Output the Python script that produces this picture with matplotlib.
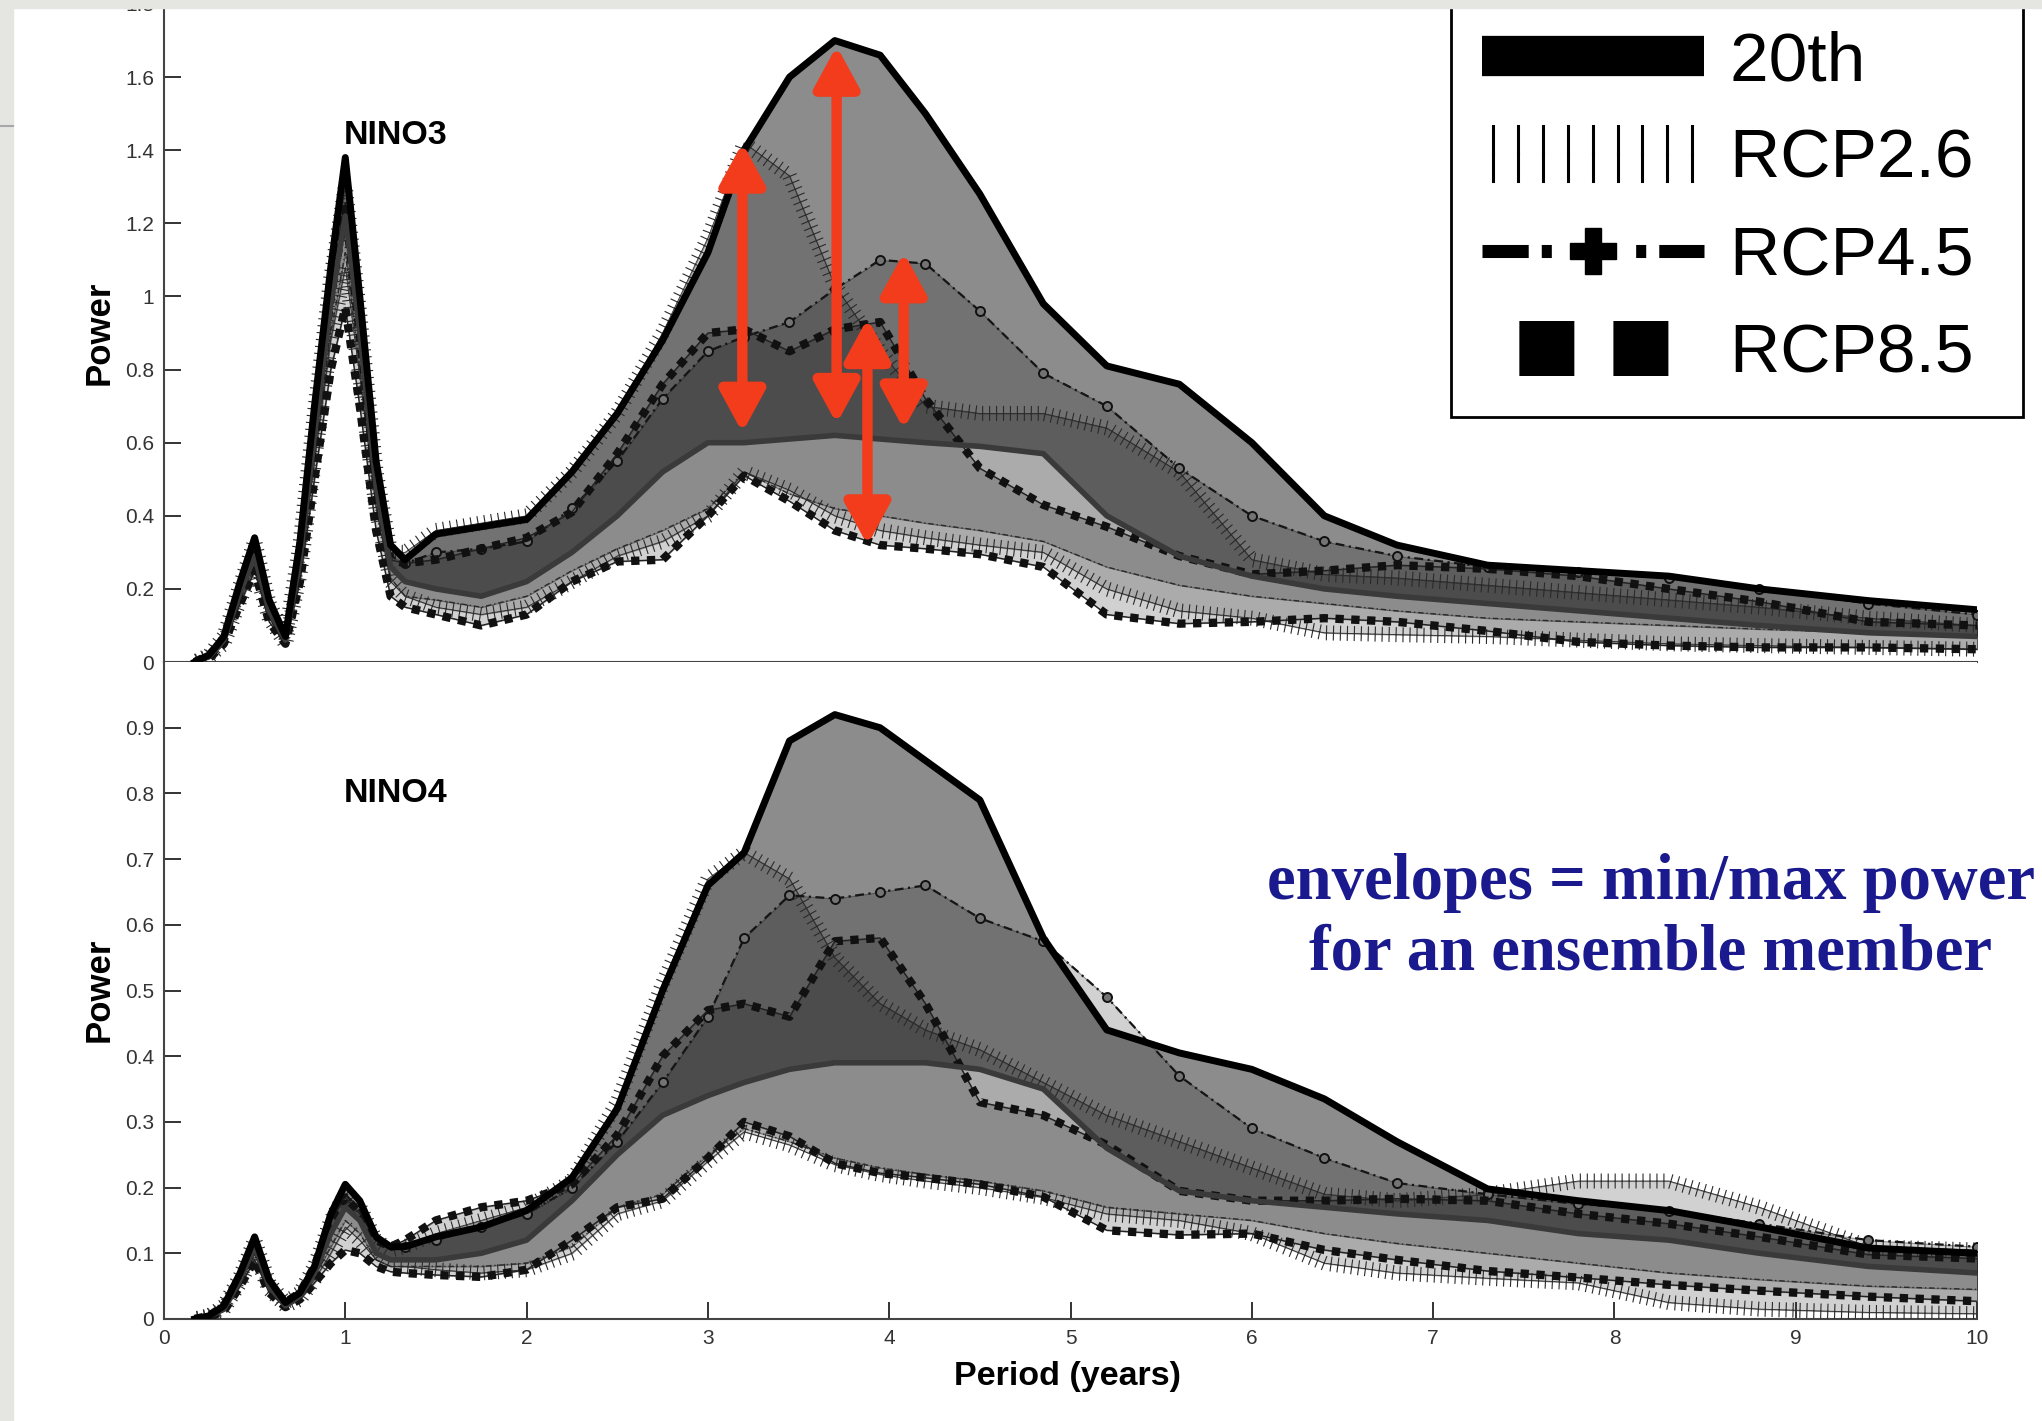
import matplotlib
matplotlib.use('Agg')
import matplotlib.pyplot as plt
from matplotlib import font_manager
from matplotlib import patheffects as pe
from matplotlib.lines import Line2D
from matplotlib.patches import Rectangle


def pick_font(*names):
    for name in names:
        try:
            font_manager.findfont(font_manager.FontProperties(family=name), fallback_to_default=False)
            return name
        except ValueError:
            continue
    return 'DejaVu Sans'


NARROW = pick_font('Liberation Sans Narrow', 'Liberation Sans')
SANS = pick_font('Liberation Sans', 'DejaVu Sans')
SERIF = pick_font('Liberation Serif', 'DejaVu Serif')
plt.rcParams['font.family'] = [SANS, 'DejaVu Sans']

# period grid (years), shared by every curve
period = [0.17, 0.25, 0.33, 0.42, 0.5, 0.58, 0.67, 0.75, 0.83, 0.92, 1.0, 1.08, 1.17, 1.25,
          1.33, 1.5, 1.75, 2.0, 2.25, 2.5, 2.75, 3.0, 3.2, 3.45, 3.7, 3.95, 4.2, 4.5, 4.85,
          5.2, 5.6, 6.0, 6.4, 6.8, 7.3, 7.8, 8.3, 8.8, 9.4, 10.0]

scenarios = ['20th', 'RCP2.6', 'RCP4.5', 'RCP8.5']

# NINO3 envelopes (min / max power over ensemble members)
n3_20th_max = [0.0, 0.02, 0.07, 0.22, 0.34, 0.17, 0.07, 0.33, 0.70, 1.08, 1.38, 1.00, 0.55, 0.32,
               0.28, 0.35, 0.37, 0.39, 0.52, 0.68, 0.88, 1.12, 1.40, 1.60, 1.70, 1.66, 1.50, 1.28, 0.98,
               0.81, 0.76, 0.60, 0.40, 0.32, 0.265, 0.25, 0.235, 0.20, 0.168, 0.143]
n3_20th_min = [0.0, 0.015, 0.06, 0.19, 0.29, 0.14, 0.06, 0.28, 0.62, 0.98, 1.22, 0.90, 0.48, 0.26,
               0.22, 0.20, 0.18, 0.22, 0.30, 0.40, 0.52, 0.60, 0.60, 0.61, 0.62, 0.61, 0.60, 0.59, 0.57,
               0.40, 0.29, 0.235, 0.20, 0.18, 0.16, 0.14, 0.12, 0.10, 0.08, 0.07]
n3_26_max = [0.0, 0.02, 0.07, 0.21, 0.33, 0.16, 0.07, 0.32, 0.68, 1.05, 1.30, 0.95, 0.52, 0.30,
             0.30, 0.36, 0.38, 0.40, 0.52, 0.68, 0.90, 1.16, 1.42, 1.33, 1.03, 0.85, 0.70, 0.68, 0.68,
             0.64, 0.52, 0.28, 0.24, 0.23, 0.21, 0.19, 0.17, 0.15, 0.12, 0.10]
n3_26_min = [0.0, 0.015, 0.05, 0.17, 0.26, 0.12, 0.05, 0.24, 0.55, 0.88, 1.08, 0.78, 0.42, 0.22,
             0.18, 0.15, 0.13, 0.15, 0.22, 0.29, 0.33, 0.40, 0.52, 0.47, 0.40, 0.36, 0.34, 0.32, 0.30,
             0.20, 0.14, 0.12, 0.08, 0.075, 0.07, 0.06, 0.05, 0.045, 0.04, 0.035]
n3_45_max = [0.0, 0.02, 0.07, 0.21, 0.32, 0.16, 0.07, 0.31, 0.66, 1.02, 1.26, 0.92, 0.50, 0.29,
             0.27, 0.30, 0.31, 0.33, 0.42, 0.55, 0.72, 0.85, 0.89, 0.93, 1.02, 1.10, 1.09, 0.96, 0.79,
             0.70, 0.53, 0.40, 0.33, 0.29, 0.26, 0.245, 0.23, 0.20, 0.16, 0.13]
n3_45_min = [0.0, 0.015, 0.05, 0.18, 0.27, 0.13, 0.05, 0.25, 0.57, 0.90, 1.12, 0.80, 0.44, 0.23,
             0.18, 0.17, 0.15, 0.18, 0.25, 0.31, 0.36, 0.42, 0.52, 0.46, 0.42, 0.40, 0.38, 0.36, 0.33,
             0.26, 0.21, 0.18, 0.16, 0.14, 0.12, 0.11, 0.10, 0.09, 0.08, 0.07]
n3_85_max = [0.0, 0.02, 0.06, 0.20, 0.31, 0.15, 0.06, 0.30, 0.64, 1.00, 1.24, 0.90, 0.49, 0.28,
             0.27, 0.28, 0.31, 0.34, 0.41, 0.57, 0.76, 0.90, 0.91, 0.85, 0.91, 0.93, 0.72, 0.53, 0.43,
             0.37, 0.29, 0.24, 0.25, 0.265, 0.255, 0.235, 0.20, 0.165, 0.11, 0.10]
n3_85_min = [0.0, 0.01, 0.05, 0.16, 0.25, 0.11, 0.05, 0.22, 0.50, 0.80, 0.97, 0.70, 0.36, 0.18,
             0.15, 0.13, 0.10, 0.13, 0.22, 0.275, 0.28, 0.40, 0.51, 0.44, 0.36, 0.32, 0.31, 0.295, 0.26,
             0.13, 0.105, 0.11, 0.12, 0.11, 0.085, 0.055, 0.045, 0.04, 0.04, 0.035]

# NINO4 envelopes
n4_20th_max = [0.0, 0.005, 0.02, 0.07, 0.125, 0.06, 0.025, 0.04, 0.08, 0.16, 0.205, 0.18, 0.125, 0.11,
               0.11, 0.125, 0.14, 0.165, 0.215, 0.32, 0.50, 0.66, 0.71, 0.88, 0.92, 0.90, 0.85, 0.79, 0.58,
               0.44, 0.405, 0.38, 0.335, 0.27, 0.198, 0.18, 0.165, 0.14, 0.108, 0.10]
n4_20th_min = [0.0, 0.004, 0.015, 0.06, 0.11, 0.05, 0.02, 0.035, 0.07, 0.13, 0.17, 0.15, 0.10, 0.09,
               0.09, 0.09, 0.10, 0.12, 0.18, 0.25, 0.31, 0.34, 0.36, 0.38, 0.39, 0.39, 0.39, 0.38, 0.35,
               0.26, 0.195, 0.18, 0.17, 0.16, 0.15, 0.13, 0.12, 0.10, 0.08, 0.07]
n4_26_max = [0.0, 0.005, 0.02, 0.065, 0.12, 0.055, 0.025, 0.04, 0.08, 0.15, 0.19, 0.17, 0.12, 0.105,
             0.11, 0.13, 0.15, 0.17, 0.21, 0.33, 0.51, 0.67, 0.71, 0.67, 0.55, 0.48, 0.44, 0.41, 0.36,
             0.31, 0.27, 0.23, 0.19, 0.18, 0.19, 0.21, 0.21, 0.17, 0.11, 0.105]
n4_26_min = [0.0, 0.004, 0.015, 0.055, 0.10, 0.045, 0.02, 0.03, 0.06, 0.10, 0.14, 0.12, 0.09, 0.08,
             0.08, 0.075, 0.07, 0.075, 0.10, 0.16, 0.18, 0.24, 0.285, 0.265, 0.235, 0.22, 0.21, 0.20, 0.185,
             0.16, 0.15, 0.13, 0.085, 0.07, 0.062, 0.055, 0.025, 0.015, 0.01, 0.008]
n4_45_max = [0.0, 0.005, 0.02, 0.065, 0.118, 0.055, 0.025, 0.04, 0.08, 0.15, 0.19, 0.165, 0.12, 0.105,
             0.11, 0.12, 0.14, 0.16, 0.20, 0.27, 0.36, 0.46, 0.58, 0.645, 0.64, 0.65, 0.66, 0.61, 0.575,
             0.49, 0.37, 0.29, 0.245, 0.207, 0.19, 0.175, 0.165, 0.145, 0.12, 0.11]
n4_45_min = [0.0, 0.004, 0.015, 0.055, 0.10, 0.045, 0.02, 0.032, 0.065, 0.11, 0.15, 0.13, 0.09, 0.08,
             0.08, 0.08, 0.08, 0.085, 0.11, 0.17, 0.19, 0.25, 0.29, 0.27, 0.245, 0.23, 0.22, 0.21, 0.195,
             0.17, 0.16, 0.15, 0.13, 0.115, 0.10, 0.085, 0.07, 0.06, 0.05, 0.045]
n4_85_max = [0.0, 0.005, 0.02, 0.065, 0.115, 0.055, 0.025, 0.04, 0.08, 0.15, 0.185, 0.16, 0.12, 0.11,
             0.12, 0.15, 0.17, 0.18, 0.205, 0.28, 0.40, 0.47, 0.48, 0.46, 0.575, 0.58, 0.48, 0.33, 0.31,
             0.265, 0.195, 0.18, 0.18, 0.183, 0.18, 0.16, 0.145, 0.125, 0.098, 0.092]
n4_85_min = [0.0, 0.003, 0.012, 0.05, 0.09, 0.04, 0.018, 0.03, 0.055, 0.085, 0.105, 0.10, 0.08, 0.072,
             0.07, 0.067, 0.064, 0.075, 0.12, 0.17, 0.183, 0.245, 0.30, 0.278, 0.237, 0.222, 0.215, 0.205,
             0.186, 0.135, 0.128, 0.13, 0.105, 0.09, 0.073, 0.063, 0.052, 0.043, 0.034, 0.027]

# red double arrows on the NINO3 panel
arrow_period = [3.19, 3.71, 3.88, 4.08]
arrow_top = [1.42, 1.685, 0.94, 1.12]
arrow_bottom = [0.628, 0.652, 0.32, 0.637]

n3_yticks = [0, 0.2, 0.4, 0.6, 0.8, 1.0, 1.2, 1.4, 1.6, 1.8]
n4_yticks = [0, 0.1, 0.2, 0.3, 0.4, 0.5, 0.6, 0.7, 0.8, 0.9]
x_ticks = list(range(0, 11))

FILL_ALPHA = {'20th': 0.45, 'RCP2.6': 0.18, 'RCP4.5': 0.18, 'RCP8.5': 0.18}


def hatch_effects(spacing, length, width, color, with_line=True):
    effects = [pe.TickedStroke(spacing=spacing, angle=90, length=length, linewidth=width, foreground=color),
               pe.TickedStroke(spacing=spacing, angle=-90, length=length, linewidth=width, foreground=color)]
    if with_line:
        effects.append(pe.Normal())
    return effects


def plot_curve(ax, key, vals, is_min):
    if key == '20th':
        ax.plot(period, vals, color='#3a3a3a' if is_min else 'k', lw=4 if is_min else 5,
                solid_joinstyle='round', zorder=5 if not is_min else 4)
    elif key == 'RCP2.6':
        ax.plot(period, vals, color='#2a2a2a', lw=0.6, zorder=3,
                path_effects=hatch_effects(5, 1.0, 0.8, '#2a2a2a'))
    elif key == 'RCP4.5':
        if is_min:
            ax.plot(period, vals, color='#2a2a2a', lw=1.0, ls=(0, (4, 2, 1, 2)), zorder=3)
        else:
            ax.plot(period, vals, color='#151515', lw=1.6, ls=(0, (4, 2, 1, 2)), marker='o', ms=6.5,
                    mfc='0.45', mec='#111', mew=1.4, markevery=slice(14, None), zorder=3)
    else:
        ax.plot(period, vals, color='#222', lw=1.0, zorder=3)
        ax.plot(period, vals, color='#111', lw=6, ls=(0, (1.0, 0.9)), dash_capstyle='butt', zorder=3)


def draw_panel(ax, curves, ymax, yticks, name, name_xy):
    for key in scenarios:
        lo, hi = curves[key]
        ax.fill_between(period, lo, hi, facecolor=(0, 0, 0, FILL_ALPHA[key]),
                        edgecolor=(0.15, 0.15, 0.15, 0.45), linewidth=0.8, zorder=1)
    for key in scenarios:
        lo, hi = curves[key]
        plot_curve(ax, key, hi, False)
        plot_curve(ax, key, lo, True)

    ax.set_xlim(0, 10)
    ax.set_ylim(0, ymax)
    ax.set_yticks(yticks)
    ax.set_yticklabels(['%g' % t for t in yticks])
    for side in ('top', 'right'):
        ax.spines[side].set_visible(False)
    for side in ('left', 'bottom'):
        ax.spines[side].set_color('#444')
        ax.spines[side].set_linewidth(1.5)
    ax.tick_params(direction='in', length=12, width=1.4, colors='#333', labelsize=15, pad=7)
    ax.text(name_xy[0], name_xy[1], name, ha='center', va='center', fontsize=24.5,
            fontweight='bold', family=NARROW)


fig = plt.figure(figsize=(20.42, 14.21), dpi=100)
ax_top = fig.add_axes([0.0803, 0.5341, 0.8879, 0.4631])
ax_bot = fig.add_axes([0.0803, 0.0718, 0.8879, 0.4623])

nino3 = {'20th': (n3_20th_min, n3_20th_max), 'RCP2.6': (n3_26_min, n3_26_max),
         'RCP4.5': (n3_45_min, n3_45_max), 'RCP8.5': (n3_85_min, n3_85_max)}
nino4 = {'20th': (n4_20th_min, n4_20th_max), 'RCP2.6': (n4_26_min, n4_26_max),
         'RCP4.5': (n4_45_min, n4_45_max), 'RCP8.5': (n4_85_min, n4_85_max)}

draw_panel(ax_top, nino3, 1.8, n3_yticks, 'NINO3', (1.28, 1.44))
draw_panel(ax_bot, nino4, 1.0, n4_yticks, 'NINO4', (1.28, 0.80))
ax_top.set_xticks([])
ax_bot.set_xticks(x_ticks)
ax_bot.set_xticklabels([str(t) for t in x_ticks])

for x, y0, y1 in zip(arrow_period, arrow_bottom, arrow_top):
    ax_top.annotate('', xy=(x, y1), xytext=(x, y0), zorder=8,
                    arrowprops=dict(arrowstyle='<|-|>,head_length=1.25,head_width=0.68',
                                    color='#f23c1c', lw=7.5, mutation_scale=20, shrinkA=0, shrinkB=0))

# axis titles
for y in (0.7657, 0.3033):
    fig.text(0.0485, y, 'Power', rotation=90, ha='center', va='center', fontsize=25,
             fontweight='bold', family=NARROW)
fig.text(0.523, 0.0313, 'Period (years)', ha='center', va='center', fontsize=24.5,
         fontweight='bold', family=NARROW)

# note in the lower right
fig.text(0.8085, 0.3673, 'envelopes = min/max power', ha='center', va='baseline', color='#1a1a8e',
         fontsize=46.5, fontweight='bold', family=SERIF)
fig.text(0.8085, 0.3174, 'for an ensemble member', ha='center', va='baseline', color='#1a1a8e',
         fontsize=46.5, fontweight='bold', family=SERIF)

# legend (trailing space widens the right margin like the original box)
handles = [
    Line2D([], [], color='k', lw=29, solid_capstyle='butt'),
    Line2D([], [], color='k', lw=1, path_effects=hatch_effects(17, 1.15, 2.2, 'k', with_line=False)),
    Line2D([], [], color='k', lw=9.4, ls=(0, (3.54, 1.0, 0.77, 6.46, 0.77, 1.0, 3.54, 1.0)),
           dash_capstyle='butt', marker='P', ms=33),
    Line2D([], [], color='k', lw=39.6, ls=(1.04, (1.0, 0.71)), dash_capstyle='butt'),
]
leg = ax_top.legend(handles, [s + ' ' for s in scenarios], loc='lower right',
                    bbox_to_anchor=(0.9907, 0.7065), bbox_transform=fig.transFigure,
                    prop=font_manager.FontProperties(family=NARROW, size=50),
                    handlelength=3.2, handletextpad=0.37, labelspacing=0.48, borderpad=0.44,
                    borderaxespad=0, fancybox=False, framealpha=1, edgecolor='k', numpoints=1)
leg.get_frame().set_linewidth(2)
leg.set_zorder(10)

# slide background strips
fig.add_artist(Rectangle((0, 0), 0.0064, 1, transform=fig.transFigure, color='#e5e5e1', zorder=20))
fig.add_artist(Rectangle((0, 0.9945), 1, 0.0055, transform=fig.transFigure, color='#e5e5e1', zorder=20))
fig.add_artist(Line2D([0, 0.0064], [0.9113, 0.9113], transform=fig.transFigure, color='#a8a8a8',
                      lw=1.5, zorder=21))

fig.savefig('out.png', dpi=100)
